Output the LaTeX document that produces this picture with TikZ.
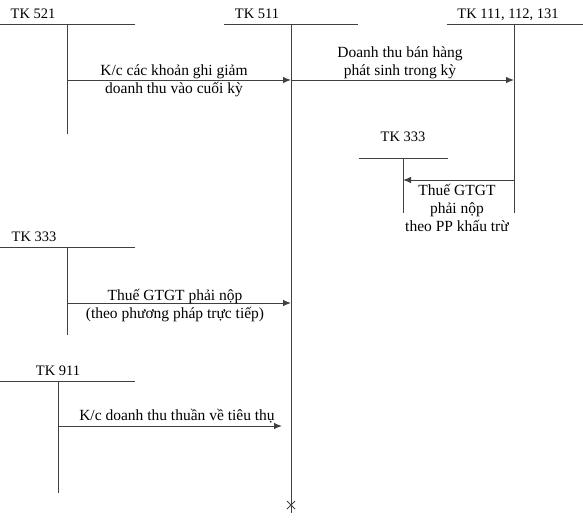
\documentclass[tikz,border=0pt]{standalone}
\usepackage{fontspec}
\setmainfont{Liberation Serif}
\usetikzlibrary{arrows.meta}
\tikzset{
  tline/.style={draw=black!75, line width=1pt},
  flow/.style={tline, -{Latex[length=8pt,width=6.5pt]}},
  head/.style={font=\rmfamily\fontsize{14.5}{17}\selectfont, inner sep=0pt, anchor=base},
  lbl/.style={font=\rmfamily\fontsize{15.5}{18}\selectfont, inner sep=0pt, align=center},
}

\begin{document}
\begin{tikzpicture}[x=1pt,y=-1pt]
    \useasboundingbox (0,0) rectangle (583,525);
    % account heads
    \node[head] (n521) at (33,18)  {TK 521};
    \node[head] (n511) at (257,18) {TK 511};
    \node[head] (n111) at (508,18) {TK 111, 112, 131};
    \node[head] (n333r) at (403,141) {TK 333};
    \node[head] (n333l) at (34,241) {TK 333};
    \node[head] (n911) at (58,375) {TK 911};
    % T-accounts
    \draw[tline] (0,24) -- (135,24)   (67,24) coordinate (t521) -- (67,134);
    \draw[tline] (224,24) -- (358,24) (291,24) coordinate (t511) -- (291,513);
    \draw[tline] (447,24) -- (583,24) (514,24) coordinate (t111) -- (514,213);
    \draw[tline] (359,158) -- (448,158) (403,158) coordinate (t333r) -- (403,213);
    \draw[tline] (0,247) -- (135,247) (67,247) coordinate (t333l) -- (67,335);
    \draw[tline] (0,381) -- (135,381) (58,381) coordinate (t911) -- (58,493);
    % end mark
    \coordinate (e511) at (291,505);
    \draw[tline] ([shift={(-4,-4)}]e511) -- ([shift={(4,4)}]e511)
                 ([shift={(-4,4)}]e511) -- ([shift={(4,-4)}]e511);
    % arrows
    \coordinate (a1s) at (67,80);   \coordinate (a1e) at (291,80);
    \coordinate (a2e) at (514,80);
    \coordinate (a3s) at (514,180); \coordinate (a3e) at (403,180);
    \coordinate (a4s) at (67,303);  \coordinate (a4e) at (291,303);
    \coordinate (a5s) at (58,426);  \coordinate (a5e) at (282,426);
    \draw[flow] (a1s) -- (a1e);
    \draw[flow] (a1e) -- (a2e);
    \draw[flow] (a3s) -- (a3e);
    \draw[flow] (a4s) -- (a4e);
    \draw[flow] (a5s) -- (a5e);
    % labels
    \node[lbl] (l1) at (174,81)  {K/c các khoản ghi giảm\\doanh thu vào cuối kỳ};
    \node[lbl] (l2) at (400,63)  {Doanh thu bán hàng\\phát sinh trong kỳ};
    \node[lbl] (l3) at (457,208) {Thuế GTGT\\phải nộp\\theo PP khấu trừ};
    \node[lbl] (l4) at (175,306) {Thuế GTGT phải nộp\\(theo phương pháp trực tiếp)};
    \node[lbl, anchor=base] (l5) at (177,420) {K/c doanh thu thuần về tiêu thụ};
\end{tikzpicture}
\end{document}
